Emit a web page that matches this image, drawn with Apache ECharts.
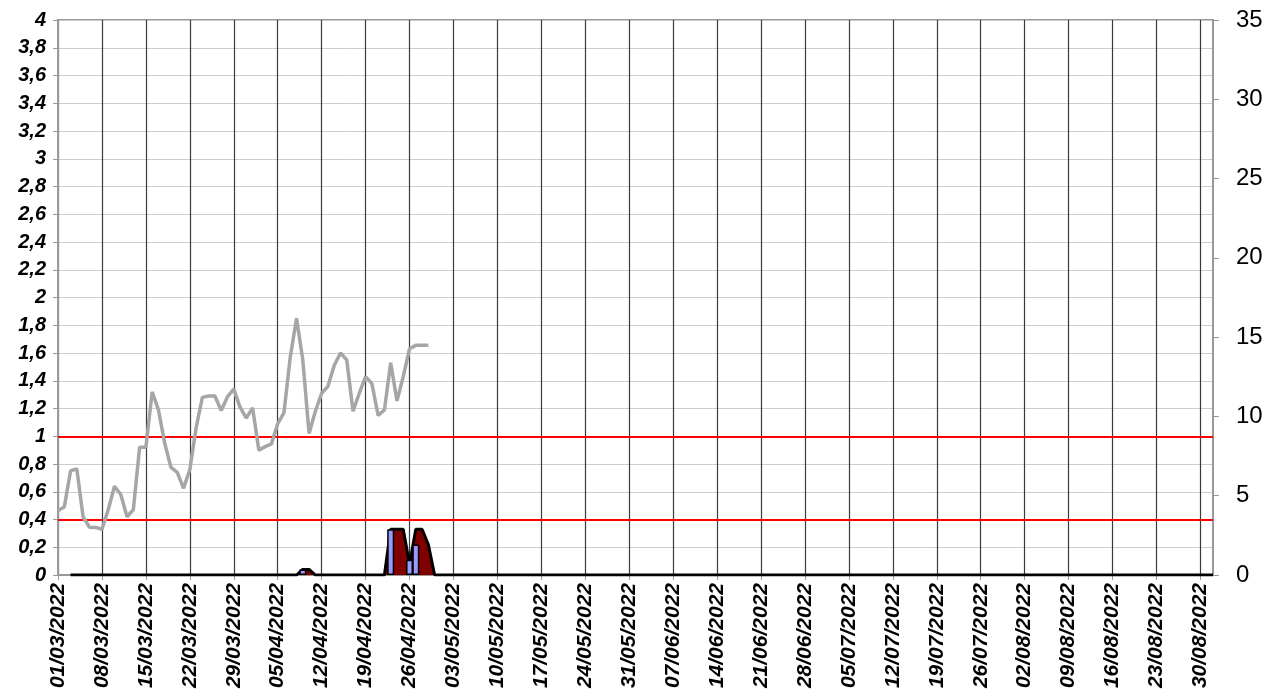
<!DOCTYPE html>
<html>
<head>
<meta charset="utf-8">
<script src="https://cdn.jsdelivr.net/npm/echarts@6/dist/echarts.min.js"></script>
<style>
  html, body { margin: 0; padding: 0; background: #fff; }
  #chart { width: 1282px; height: 697px; }
</style>
</head>
<body>
<div id="chart"></div>
<script>
// days 01/03/2022 .. 01/09/2022
const startDate = new Date(2022, 2, 1);
const dayCount = 185;
const categories = [];
for (let i = 0; i < dayCount; i++) {
  const d = new Date(startDate.getFullYear(), startDate.getMonth(), startDate.getDate() + i);
  const dd = String(d.getDate()).padStart(2, "0");
  const mm = String(d.getMonth() + 1).padStart(2, "0");
  categories.push(dd + "/" + mm + "/" + d.getFullYear());
}

// grey daily line, 01/03 .. 29/04
const greyValues = [
  0.465, 0.49, 0.75, 0.765, 0.42, 0.345, 0.343, 0.33, 0.47, 0.64,
  0.58, 0.42, 0.47, 0.92, 0.92, 1.32, 1.19, 0.95, 0.775, 0.74,
  0.625, 0.76, 1.06, 1.28, 1.29, 1.29, 1.185, 1.285, 1.34, 1.21,
  1.13, 1.205, 0.9, 0.925, 0.945, 1.09, 1.17, 1.57, 1.85, 1.55,
  1.02, 1.18, 1.31, 1.36, 1.51, 1.6, 1.55, 1.18, 1.31, 1.43,
  1.38, 1.15, 1.19, 1.53, 1.255, 1.43, 1.63, 1.655, 1.655, 1.655
];

// dark red area: [day index, value]
const areaPoints = [
  [2, 0], [38, 0], [39, 0.04], [40, 0.04], [41, 0],
  [52, 0], [53, 0.33], [54, 0.33], [55, 0.33], [56, 0.08],
  [57, 0.33], [58, 0.33], [59, 0.22], [60, 0], [184, 0]
];

// blue bars: [day index, value]
const barPoints = [[39, 0.04], [53, 0.33], [56, 0.11], [57, 0.22]];

// red reference lines
const limitLines = [1, 0.4];

const chart = echarts.init(document.getElementById("chart"));
const labelFont = "'Liberation Sans', Arial, sans-serif";

chart.setOption({
  animation: false,
  grid: {
    left: 58, right: 69, top: 20, bottom: 122,
    show: true, borderColor: "#999", borderWidth: 2
  },
  xAxis: {
    type: "category",
    data: categories,
    boundaryGap: false,
    axisLine: { lineStyle: { color: "#999", width: 2 } },
    axisTick: { interval: 6, length: 5, lineStyle: { color: "#999" } },
    axisLabel: {
      interval: 6, rotate: 90, margin: 8,
      color: "#000", fontFamily: labelFont, fontSize: 21,
      fontWeight: "bold", fontStyle: "italic"
    },
    splitLine: { show: true, interval: 6, lineStyle: { color: "#3a3a3a", width: 1.2 } }
  },
  yAxis: [
    {
      type: "value", min: 0, max: 4, interval: 0.2,
      axisLine: { show: true, lineStyle: { color: "#999", width: 2 } },
      axisTick: { show: true, length: 5, lineStyle: { color: "#999" } },
      axisLabel: {
        color: "#000", fontFamily: labelFont, fontSize: 20,
        fontWeight: "bold", fontStyle: "italic", margin: 12,
        formatter: v => String(Math.round(v * 10) / 10).replace(".", ",")
      },
      splitLine: { lineStyle: { color: "#ccc", width: 1 } }
    },
    {
      type: "value", min: 0, max: 35, interval: 5, position: "right",
      axisLine: { show: true, lineStyle: { color: "#999", width: 2 } },
      axisTick: { show: true, length: 6, lineStyle: { color: "#999" } },
      axisLabel: { color: "#000", fontFamily: labelFont, fontSize: 24, margin: 23 },
      splitLine: { show: false }
    }
  ],
  series: [
    {
      type: "line",
      data: areaPoints,
      symbol: "none",
      z: 3,
      lineStyle: { color: "#000", width: 3 },
      areaStyle: { color: "#800000", opacity: 1 },
      markLine: {
        silent: true,
        symbol: "none",
        label: { show: false },
        lineStyle: { color: "#ff0000", width: 2, type: "solid" },
        data: limitLines.map(v => ({ yAxis: v }))
      }
    },
    {
      type: "bar",
      data: barPoints,
      barWidth: 7,
      z: 6,
      itemStyle: { color: "#9999ff", borderColor: "#000", borderWidth: 1.5 }
    },
    {
      type: "line",
      data: greyValues,
      symbol: "none",
      z: 5,
      lineStyle: { color: "#a6a6a6", width: 3.5 }
    }
  ]
});
</script>
</body>
</html>
